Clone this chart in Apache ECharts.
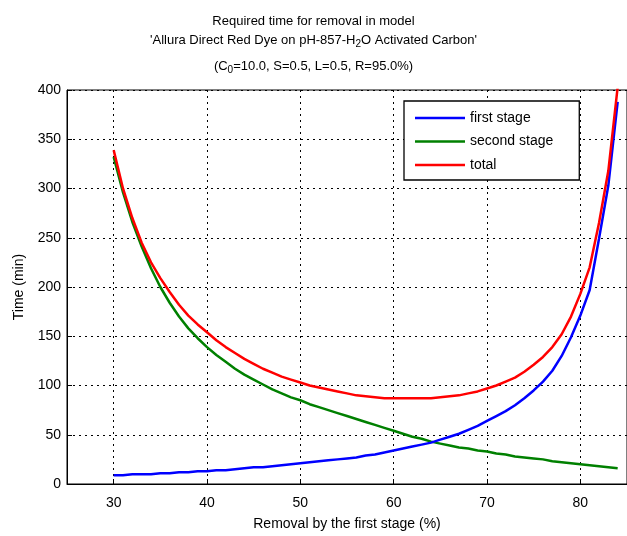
<!DOCTYPE html>
<html><head><meta charset="utf-8">
<script src="https://cdn.jsdelivr.net/npm/echarts@6/dist/echarts.min.js"></script>
<style>html,body{margin:0;padding:0;background:#fff}#c{width:627px;height:536px}</style>
</head><body><div id="c"></div>
<script>
const removal = [30,31,32,33,34,35,36,37,38,39,40,41,42,43,44,45,46,47,48,49,50,51,52,53,54,55,56,57,58,59,60,61,62,63,64,65,66,67,68,69,70,71,72,73,74,75,76,77,78,79,80,81,82,83,84];
const firstStage = [9,9,10,10,10,11,11,12,12,13,13,14,14,15,16,17,17,18,19,20,21,22,23,24,25,26,27,29,30,32,34,36,38,40,42,45,48,51,55,59,64,69,74,80,87,95,104,115,130,149,171,197,249,303,388];
const secondStage = [332,296,266,241,219,200,184,170,158,148,139,131,124,117,111,106,101,96,92,88,85,81,78,75,72,69,66,63,60,57,54,51,48,46,43,41,39,37,36,34,33,31,30,28,27,26,25,23,22,21,20,19,18,17,16];
const total = [339,300,270,245,225,209,195,182,171,162,154,146,139,133,127,122,117,113,109,106,103,100,98,96,94,92,90,89,88,87,87,87,87,87,87,88,89,90,92,94,97,100,104,108,114,121,129,139,152,170,193,220,265,318,403];
const xTicks = [30,40,50,60,70,80];
const seriesNames = ['first stage','second stage','total'];
const colors = ['#0000ff','#008000','#ff0000'];

const pair = (ys) => removal.map((x,i)=>[x, ys[i]]);
const FONT = 'Liberation Sans, Arial, sans-serif';
const chart = echarts.init(document.getElementById('c'), null, {renderer:'canvas'});
chart.setOption({
  animation:false,
  backgroundColor:'#fff',
  color: colors,
  title:[
    {text:'Required time for removal in model', left:'center', top:10, textStyle:{fontFamily:FONT,fontSize:13,fontWeight:'normal',color:'#000'}},
    {text:"'Allura Direct Red Dye on pH-857-H{s|2}O Activated Carbon'", left:'center', top:26,
     textStyle:{fontFamily:FONT,fontSize:13,fontWeight:'normal',color:'#000',rich:{s:{fontFamily:FONT,fontSize:10,padding:[8,0,0,0],color:'#000'}}}},
    {text:'(C{s|0}=10.0, S=0.5, L=0.5, R=95.0%)', left:'center', top:52,
     textStyle:{fontFamily:FONT,fontSize:13,fontWeight:'normal',color:'#000',rich:{s:{fontFamily:FONT,fontSize:10,padding:[8,0,0,0],color:'#000'}}}}
  ],
  grid:{left:67,right:0,top:90,bottom:45,show:true,borderColor:'#000',borderWidth:1,backgroundColor:'#fff'},
  legend:{
    data:seriesNames, orient:'vertical', left:404, top:101,
    backgroundColor:'#fff', borderColor:'#000', borderWidth:1.3,
    padding:[10,26,8,11], itemGap:9.5, itemWidth:50, itemHeight:2.5, icon:'rect',
    textStyle:{fontFamily:FONT,fontSize:14,color:'#000'}
  },
  xAxis:{
    type:'value', min:25, max:85,
    name:'Removal by the first stage (%)', nameLocation:'middle', nameGap:33,
    nameTextStyle:{fontFamily:FONT,fontSize:14,color:'#000'},
    axisLine:{show:true,lineStyle:{color:'#000',width:1}},
    axisTick:{show:true,inside:true,length:5,customValues:xTicks,lineStyle:{color:'#000'}},
    axisLabel:{customValues:xTicks,fontFamily:FONT,fontSize:14,color:'#000',margin:12},
    splitLine:{show:true,lineStyle:{color:'#000',type:[2,4],width:1}}
  },
  yAxis:{
    type:'value', min:0, max:400, interval:50,
    name:'Time (min)', nameLocation:'middle', nameGap:41,
    nameTextStyle:{fontFamily:FONT,fontSize:14,color:'#000'},
    axisLine:{show:true,lineStyle:{color:'#000',width:1}},
    axisTick:{show:true,inside:true,length:5,lineStyle:{color:'#000'}},
    axisLabel:{fontFamily:FONT,fontSize:14,color:'#000',margin:6},
    splitLine:{show:true,lineStyle:{color:'#000',type:[2,4],width:1}}
  },
  series:[
    {name:seriesNames[0],type:'line',data:pair(firstStage),showSymbol:false,lineStyle:{width:2.5,color:colors[0]},clip:true,z:3},
    {name:seriesNames[1],type:'line',data:pair(secondStage),showSymbol:false,lineStyle:{width:2.5,color:colors[1]},clip:true,z:2},
    {name:seriesNames[2],type:'line',data:pair(total),showSymbol:false,lineStyle:{width:2.5,color:colors[2]},clip:true,z:4}
  ]
});
</script></body></html>
